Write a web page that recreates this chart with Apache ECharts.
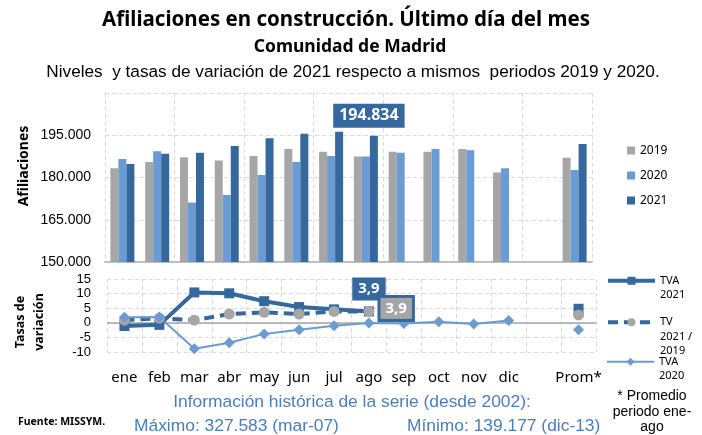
<!DOCTYPE html>
<html>
<head>
<meta charset="utf-8">
<script src="https://cdn.jsdelivr.net/npm/echarts@6/dist/echarts.min.js"></script>
<style>
  html, body { margin: 0; padding: 0; background: #fff; }
  #chart { width: 702px; height: 435px; }
</style>
</head>
<body>
<div id="chart"></div>
<script>
// meses + hueco + promedio
const categories = ['ene', 'feb', 'mar', 'abr', 'may', 'jun', 'jul', 'ago', 'sep', 'oct', 'nov', 'dic', '', 'Prom*'];

// afiliaciones (último día del mes)
const afil2019 = [183300, 185500, 187200, 186000, 187600, 190100, 189100, 187500, 189100, 189100, 190100, 181800, null, 187000];
const afil2020 = [186600, 189300, 171100, 173800, 180900, 185500, 187600, 187500, 188800, 190100, 189700, 183300, null, 182700];
const afil2021 = [184800, 188400, 188800, 191200, 193900, 195500, 196200, 194834, null, null, null, null, null, 191900];

// tasas de variación (%)
const tva2021 = [-1.1, -0.7, 10.4, 10.1, 7.4, 5.4, 4.6, 3.9, null, null, null, null, null, 4.8];
const tv2021vs2019 = [0.9, 1.6, 0.9, 3.0, 3.6, 3.0, 3.9, 3.9, null, null, null, null, null, 2.7];
const tva2020 = [1.9, 2.0, -8.9, -6.8, -3.8, -2.4, -1.0, -0.1, -0.2, 0.4, -0.4, 0.8, null, -2.4];

const yTicksTop = { min: 150000, max: 210000, interval: 15000 };
const yTicksBottom = { min: -10, max: 15, interval: 5 };

const LAST = 7; // ago

const GRAY = '#A6A6A6';
const LIGHT = '#6A9BD2';
const DARK = '#35689C';

const fmtMiles = v => String(Math.round(v)).replace(/\B(?=(\d{3})+(?!\d))/g, '.');
const fmtComa = v => String(v).replace('.', ',');

// blank lines in front so the first line sits level with the icon
const legendNames = {
  'TVA 2021': '\nTVA\n2021',
  'TV 2021 / 2019': '\n\nTV\n2021 /\n2019',
  'TVA 2020': '\nTVA\n2020'
};

const chart = echarts.init(document.getElementById('chart'), null, { renderer: 'canvas' });

const dashedSplit = { show: true, lineStyle: { color: '#D9D9D9', type: [4, 3], width: 1 } };

const bottomLegend = (name, top, lineWidth) => ({
  data: [name],
  left: 606,
  top: top,
  padding: 0,
  itemWidth: 47,
  itemHeight: 10,
  selectedMode: false,
  lineStyle: { width: lineWidth },
  formatter: n => legendNames[n],
  textStyle: { fontFamily: 'Noto Sans', fontSize: 11, lineHeight: 14.5, color: '#000' }
});

const option = {
  animation: false,
  backgroundColor: '#fff',
  grid: [
    { left: 105, right: 110, top: 93, height: 169, containLabel: false, outerBoundsMode: 'none' },
    { left: 107, right: 106, top: 279, height: 73, containLabel: false, outerBoundsMode: 'none' }
  ],
  legend: [
    {
      data: ['2019', '2020', '2021'],
      orient: 'vertical',
      left: 627,
      top: 138,
      padding: 0,
      itemGap: 0,
      itemWidth: 8,
      itemHeight: 8,
      icon: 'rect',
      selectedMode: false,
      textStyle: { fontFamily: 'Noto Sans', fontSize: 12, lineHeight: 25, color: '#000' }
    },
    bottomLegend('TVA 2021', 259, 4),
    bottomLegend('TV 2021 / 2019', 286, 4),
    bottomLegend('TVA 2020', 340, 2)
  ],
  xAxis: [
    {
      type: 'category', gridIndex: 0, data: categories,
      axisLine: { lineStyle: { color: '#BFBFBF', width: 2 } },
      axisTick: { show: false },
      axisLabel: { show: false },
      splitLine: dashedSplit
    },
    {
      type: 'category', gridIndex: 1, data: categories,
      axisLine: { show: false, onZero: false },
      axisTick: { show: false },
      axisLabel: { interval: 0, margin: 18, fontFamily: 'Noto Sans', fontSize: 15, color: '#000' },
      splitLine: dashedSplit
    }
  ],
  yAxis: [
    {
      type: 'value', gridIndex: 0,
      min: yTicksTop.min, max: yTicksTop.max, interval: yTicksTop.interval,
      axisLine: { show: false },
      axisTick: { show: false },
      axisLabel: {
        formatter: fmtMiles, showMaxLabel: false, margin: 14,
        fontFamily: 'Liberation Sans', fontSize: 14, color: '#000'
      },
      splitLine: dashedSplit
    },
    {
      type: 'value', gridIndex: 1,
      min: yTicksBottom.min, max: yTicksBottom.max, interval: yTicksBottom.interval,
      axisLine: { show: false },
      axisTick: { show: false },
      axisLabel: { margin: 16, fontFamily: 'Liberation Sans', fontSize: 13, color: '#000' },
      splitLine: dashedSplit
    }
  ],
  series: [
    {
      name: '2019', type: 'bar', xAxisIndex: 0, yAxisIndex: 0,
      barWidth: 8, barGap: '0%',
      itemStyle: { color: GRAY },
      data: afil2019
    },
    {
      name: '2020', type: 'bar', xAxisIndex: 0, yAxisIndex: 0,
      barWidth: 8, barGap: '0%',
      itemStyle: { color: LIGHT },
      data: afil2020
    },
    {
      name: '2021', type: 'bar', xAxisIndex: 0, yAxisIndex: 0,
      barWidth: 8, barGap: '0%',
      itemStyle: { color: DARK },
      data: afil2021.map((v, i) => i !== LAST ? v : {
        value: v,
        label: {
          show: true, position: 'top', distance: 8, offset: [-5, 0],
          formatter: p => fmtMiles(p.value),
          backgroundColor: DARK, color: '#fff', padding: [4, 6],
          fontFamily: 'Noto Sans', fontWeight: 'bold', fontSize: 16
        }
      })
    },
    {
      name: 'TVA 2021', type: 'line', xAxisIndex: 1, yAxisIndex: 1,
      symbol: 'rect', symbolSize: 10,
      lineStyle: { color: DARK, width: 4 },
      itemStyle: { color: DARK },
      data: tva2021.map((v, i) => i !== LAST ? v : {
        value: v,
        label: {
          show: true, position: 'top', distance: 6,
          formatter: p => fmtComa(p.value),
          backgroundColor: DARK, color: '#fff', padding: [4, 6],
          fontFamily: 'Noto Sans', fontWeight: 'bold', fontSize: 15
        }
      })
    },
    {
      name: 'TV 2021 / 2019', type: 'line', xAxisIndex: 1, yAxisIndex: 1,
      symbol: 'circle', symbolSize: 11,
      lineStyle: { color: DARK, width: 4, type: [10, 6] },
      itemStyle: { color: GRAY },
      data: tv2021vs2019.map((v, i) => i !== LAST ? v : {
        value: v,
        label: {
          show: true, position: 'right', distance: 6, offset: [0, -3],
          formatter: p => fmtComa(p.value),
          backgroundColor: GRAY, borderColor: DARK, borderWidth: 3,
          color: '#fff', padding: [3, 5],
          fontFamily: 'Noto Sans', fontWeight: 'bold', fontSize: 15
        }
      })
    },
    {
      name: 'TVA 2020', type: 'line', xAxisIndex: 1, yAxisIndex: 1,
      symbol: 'diamond', symbolSize: 11,
      lineStyle: { color: LIGHT, width: 2 },
      itemStyle: { color: LIGHT },
      data: tva2020,
      markLine: {
        silent: true, symbol: 'none', z: 1,
        label: { show: false },
        lineStyle: { color: GRAY, type: 'solid', width: 1.5 },
        data: [{ yAxis: 0 }]
      }
    }
  ],
  graphic: [
    { type: 'text', x: 346, y: 20, style: { text: 'Afiliaciones en construcción. Último día del mes', font: 'bold 20.5px "Noto Sans"', fill: '#000', align: 'center', verticalAlign: 'middle' } },
    { type: 'text', x: 350, y: 47, style: { text: 'Comunidad de Madrid', font: 'bold 17.5px "Noto Sans"', fill: '#000', align: 'center', verticalAlign: 'middle' } },
    { type: 'text', x: 353, y: 72, style: { text: 'Niveles  y tasas de variación de 2021 respecto a mismos  periodos 2019 y 2020.', font: '17.2px "Liberation Sans"', fill: '#000', align: 'center', verticalAlign: 'middle' } },
    { type: 'text', x: 24, y: 166, rotation: Math.PI / 2, style: { text: 'Afiliaciones', font: 'bold 14px "Noto Sans"', fill: '#000', align: 'center', verticalAlign: 'middle' } },
    { type: 'text', x: 30, y: 322, rotation: Math.PI / 2, style: { text: 'Tasas de\nvariación', font: 'bold 12.5px "Noto Sans"', lineHeight: 19, fill: '#000', align: 'center', verticalAlign: 'middle' } },
    { type: 'text', x: 352, y: 402, style: { text: 'Información histórica de la serie (desde 2002):', font: '17.4px "Liberation Sans"', fill: '#4A7EBB', align: 'center', verticalAlign: 'middle' } },
    { type: 'text', x: 134, y: 426, style: { text: 'Máximo: 327.583 (mar-07)', font: '17.4px "Liberation Sans"', fill: '#4A7EBB', align: 'left', verticalAlign: 'middle' } },
    { type: 'text', x: 407, y: 426, style: { text: 'Mínimo: 139.177 (dic-13)', font: '17.4px "Liberation Sans"', fill: '#4A7EBB', align: 'left', verticalAlign: 'middle' } },
    { type: 'text', x: 18, y: 422, style: { text: 'Fuente: MISSYM.', font: 'bold 10.5px "Noto Sans"', fill: '#000', align: 'left', verticalAlign: 'middle' } },
    { type: 'text', x: 652, y: 412, style: { text: '* Promedio\nperiodo ene-\nago', font: '14px "Liberation Sans"', lineHeight: 15.5, fill: '#000', align: 'center', verticalAlign: 'middle' } }
  ]
};

chart.setOption(option);
</script>
</body>
</html>
